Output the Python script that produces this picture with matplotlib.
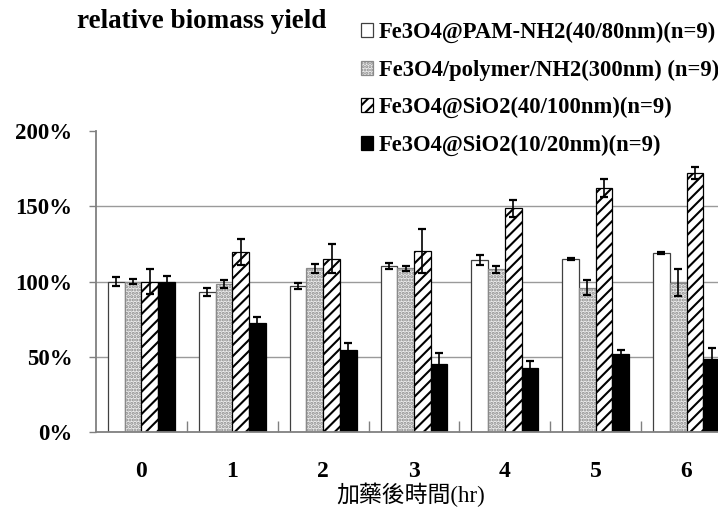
import matplotlib
matplotlib.use('Agg')
import numpy as np
import matplotlib.pyplot as plt
from matplotlib.patches import Patch

# values (percent of time 0)
hours = ['0', '1', '2', '3', '4', '5', '6']
labels = [
    'Fe3O4@PAM-NH2(40/80nm)(n=9)',
    'Fe3O4/polymer/NH2(300nm) (n=9)',
    'Fe3O4@SiO2(40/100nm)(n=9)',
    'Fe3O4@SiO2(10/20nm)(n=9)',
]
pam_mean = [100, 93, 97, 110.3, 114, 115, 119]
pam_err = [3.3, 2.5, 1.8, 1.7, 3.3, 0.7, 0.6]
poly_mean = [100, 98.3, 108.8, 108.8, 108, 96, 99.2]
poly_err = [1.7, 2.4, 2.9, 1.7, 2.3, 5.0, 8.9]
sio_big_mean = [100, 119.6, 115.2, 120.3, 148.6, 162, 172]
sio_big_err = [8.0, 8.6, 9.5, 14.4, 5.5, 5.8, 4.0]
sio_small_mean = [100, 72.2, 54.7, 45.2, 42.3, 51.6, 48.3]
sio_small_err = [3.8, 4.4, 4.6, 7.5, 5.1, 2.9, 7.7]

means = [pam_mean, poly_mean, sio_big_mean, sio_small_mean]
errs = [pam_err, poly_err, sio_big_err, sio_small_err]
styles = [
    dict(facecolor='white', edgecolor='#404040', hatch=None),
    dict(facecolor='#ececec', edgecolor='#8a8a8a', hatch='.....'),
    dict(facecolor='white', edgecolor='black', hatch='///'),
    dict(facecolor='black', edgecolor='black', hatch=None),
]

serif = 'Liberation Serif'
plt.rcParams['hatch.linewidth'] = 1.5

fig = plt.figure(figsize=(7.18, 5.11), dpi=100)
ax = fig.add_axes([96 / 718, 79 / 511, 636 / 718, 301 / 511])

x = np.arange(len(hours))
w = 0.184
handles = []
for i, (m, e, st) in enumerate(zip(means, errs, styles)):
    pos = x + (i - 1.5) * w
    ax.bar(pos, m, width=w, linewidth=0.9, zorder=2, **st)
    ax.errorbar(pos, m, yerr=e, fmt='none', ecolor='black', elinewidth=1.2,
                capsize=3, capthick=1.6, zorder=3)
    handles.append(Patch(linewidth=0.9, **st))

for v in (50, 100, 150):
    ax.axhline(v, color='#9a9a9a', linewidth=1, zorder=0)

ax.set_xlim(-0.5, 6.5)
ax.set_ylim(0, 200)
ax.set_yticks([0, 50, 100, 150, 200])
ax.set_yticklabels(['%d%%' % v for v in (0, 50, 100, 150, 200)],
                   fontfamily=serif, fontweight='bold', fontsize=16.5)
ax.set_xticks(x + 0.5, minor=False)
ax.set_xticklabels([])
ax.set_xticks(x, minor=True)
ax.set_xticklabels(hours, minor=True, fontfamily=serif, fontweight='bold',
                   fontsize=17)
ax.tick_params(axis='x', which='major', direction='in', length=8,
               color='#808080', width=1)
ax.tick_params(axis='x', which='minor', length=0, pad=21)
ax.tick_params(axis='y', direction='out', length=5, color='#808080',
               width=1, pad=12)

for s in ('top', 'right'):
    ax.spines[s].set_visible(False)
for s in ('left', 'bottom'):
    ax.spines[s].set_color('#808080')
    ax.spines[s].set_linewidth(1.3)

fig.text(411 / 718, 1 - 495 / 511, '加藥後時間(hr)', ha='center', va='center',
         fontsize=16.5, family=[serif, 'Noto Sans CJK TC'])

fig.text(77 / 718, 1 - 28 / 511, 'relative biomass yield', ha='left',
         va='baseline', fontfamily=serif, fontweight='bold', fontsize=19.5)

fig.legend(handles, labels, loc='upper left',
           bbox_to_anchor=(361 / 718, 1 - 22 / 511), frameon=False,
           prop=dict(family=serif, weight='bold', size=16.3),
           handlelength=0.55, handleheight=0.55, handletextpad=0.25,
           labelspacing=0.72, borderaxespad=0, borderpad=0)

fig.savefig('out.png', dpi=100)
